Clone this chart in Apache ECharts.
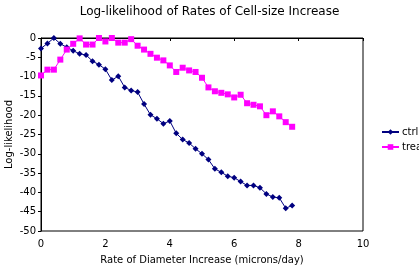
<!DOCTYPE html>
<html>
<head>
    <meta charset="UTF-8">
    <title>Log-likelihood of Rates of Cell-size Increase</title>
    <script type="text/javascript" src="https://cdn.jsdelivr.net/npm/echarts@6/dist/echarts.min.js"></script>
</head>
<body style="margin: 0;overflow: hidden;background: #fff;">
<div id="chart" style="width: 419px;height: 270px;"></div>
<script type="text/javascript">
    // rate of diameter increase, 0 .. 7.8 in steps of 0.2
    var rates = [0, 0.2, 0.4, 0.6, 0.8, 1.0, 1.2, 1.4, 1.6, 1.8,
        2.0, 2.2, 2.4, 2.6, 2.8, 3.0, 3.2, 3.4, 3.6, 3.8,
        4.0, 4.2, 4.4, 4.6, 4.8, 5.0, 5.2, 5.4, 5.6, 5.8,
        6.0, 6.2, 6.4, 6.6, 6.8, 7.0, 7.2, 7.4, 7.6, 7.8];
    var ctrl = [-2.7, -1.4, 0, -1.5, -2.4, -3.3, -4.1, -4.4, -6.0, -6.9,
        -8.1, -10.9, -9.9, -12.8, -13.6, -14.0, -17.1, -19.9, -20.9, -22.2,
        -21.5, -24.7, -26.3, -27.2, -28.7, -30.0, -31.5, -33.9, -34.8, -35.8,
        -36.2, -37.2, -38.2, -38.2, -38.8, -40.4, -41.2, -41.4, -44.1, -43.4];
    var trea = [-9.7, -8.2, -8.2, -5.6, -3.0, -1.5, -0.1, -1.7, -1.7, 0,
        -0.9, 0, -1.2, -1.2, -0.3, -2.0, -3.0, -4.1, -5.1, -5.8,
        -7.1, -8.8, -7.7, -8.4, -8.8, -10.3, -12.8, -13.8, -14.2, -14.6,
        -15.4, -14.7, -16.9, -17.3, -17.7, -20.0, -19.0, -20.3, -21.8, -23.0];
    var seriesNames = ['ctrl', 'trea'];

    function pairs(ys) {
        return rates.map(function (x, i) {
            return [x, ys[i]];
        });
    }

    var font = 'Verdana, "DejaVu Sans", sans-serif';
    var chart = echarts.init(document.getElementById('chart'), null, {renderer: 'canvas'});
    var option = {
        backgroundColor: '#fff',
        animation: false,
        title: {
            text: 'Log-likelihood of Rates of Cell-size Increase',
            left: 'center',
            top: 1,
            textStyle: {
                fontFamily: font,
                fontSize: 12,
                fontWeight: 'normal',
                color: '#000'
            }
        },
        legend: {
            orient: 'vertical',
            left: 376,
            top: 122,
            itemWidth: 17,
            itemHeight: 7,
            itemGap: 5,
            textStyle: {fontFamily: font, fontSize: 10, color: '#000', padding: [0, 0, 0, -2]},
            data: seriesNames
        },
        grid: {
            left: 41,
            right: 56,
            top: 38,
            bottom: 39,
            outerBoundsMode: 'none',
            containLabel: false,
            show: true,
            borderColor: '#000',
            borderWidth: 1
        },
        xAxis: {
            type: 'value',
            min: 0,
            max: 10,
            interval: 2,
            name: 'Rate of Diameter Increase (microns/day)',
            nameLocation: 'middle',
            nameGap: 24,
            nameMoveOverlap: false,
            nameTextStyle: {fontFamily: font, fontSize: 10, color: '#000'},
            axisLine: {lineStyle: {color: '#000'}},
            axisTick: {show: true, inside: false, length: 3, lineStyle: {color: '#000'}},
            axisLabel: {fontFamily: font, fontSize: 10, color: '#000', margin: 8},
            splitLine: {show: false}
        },
        yAxis: {
            type: 'value',
            min: -50,
            max: 0,
            interval: 5,
            name: 'Log-likelihood',
            nameLocation: 'middle',
            nameGap: 27,
            nameMoveOverlap: false,
            nameTextStyle: {fontFamily: font, fontSize: 10, color: '#000'},
            axisLine: {lineStyle: {color: '#000'}},
            axisTick: {show: true, inside: false, length: 3, lineStyle: {color: '#000'}},
            axisLabel: {fontFamily: font, fontSize: 10, color: '#000', margin: 5},
            splitLine: {show: false}
        },
        series: [
            {
                name: seriesNames[0],
                type: 'line',
                data: pairs(ctrl),
                symbol: 'diamond',
                symbolSize: 6,
                lineStyle: {color: '#000080', width: 1},
                itemStyle: {color: '#000080'}
            },
            {
                name: seriesNames[1],
                type: 'line',
                data: pairs(trea),
                symbol: 'rect',
                symbolSize: 6,
                lineStyle: {color: '#FF00FF', width: 1},
                itemStyle: {color: '#FF00FF'}
            }
        ]
    };
    chart.setOption(option);
</script>
</body>
</html>
